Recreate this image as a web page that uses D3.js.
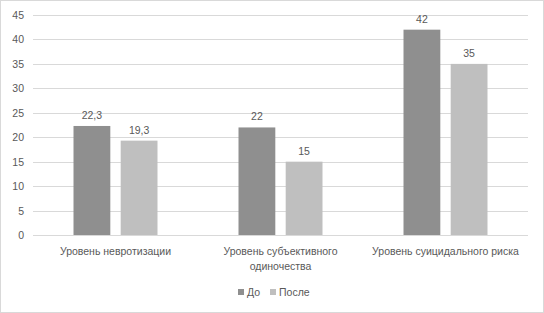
<!DOCTYPE html>
<html>
<head>
<meta charset="utf-8">
<script src="https://cdn.jsdelivr.net/npm/d3@7"></script>
<style>
  body { margin: 0; background: #fff; }
  svg text { font-family: "Liberation Sans", Arial, sans-serif; fill: #595959; }
</style>
</head>
<body>
<svg id="chart" width="544" height="313"></svg>
<script>
const categories = [['Уровень невротизации'], ['Уровень субъективного', 'одиночества'], ['Уровень суицидального риска']];
const seriesNames = ['До', 'После'];
const beforeValues = [22.3, 22, 42];
const afterValues = [19.3, 15, 35];
const yTicks = [0, 5, 10, 15, 20, 25, 30, 35, 40, 45];
const colors = ['#8f8f8f', '#bfbfbf'];

function drawChart() {
  const width = 544;
  const height = 313;
  const margin = {top: 15, right: 16, bottom: 78, left: 33};

  const svg = d3.select('svg#chart');

  // outer frame
  svg.append('rect')
    .attr('x', 0.5).attr('y', 0.5)
    .attr('width', width - 1).attr('height', height - 1)
    .attr('fill', '#fff')
    .attr('stroke', '#d9d9d9');

  const x = d3.scaleBand()
    .domain(d3.range(categories.length))
    .range([margin.left, width - margin.right]);

  const x1 = d3.scaleBand()
    .domain(d3.range(seriesNames.length))
    .range([0, 84])
    .paddingInner(0.22);

  const y = d3.scaleLinear()
    .domain([0, 45])
    .range([height - margin.bottom, margin.top]);

  // gridlines
  svg.append('g').selectAll('line').data(yTicks).enter()
    .append('line')
    .attr('x1', margin.left).attr('x2', width - margin.right)
    .attr('y1', d => Math.round(y(d)) + 0.5).attr('y2', d => Math.round(y(d)) + 0.5)
    .attr('stroke', '#d9d9d9');

  // y tick labels
  svg.append('g').selectAll('text').data(yTicks).enter()
    .append('text')
    .attr('x', 24)
    .attr('y', d => y(d) + 4)
    .attr('text-anchor', 'end')
    .attr('font-size', 10.5)
    .text(d => d);

  const series = [beforeValues, afterValues];
  const offset = (x.bandwidth() - 84) / 2;

  series.forEach((vals, si) => {
    const g = svg.append('g');
    g.selectAll('rect').data(vals).enter()
      .append('rect')
      .attr('x', (d, i) => x(i) + offset + x1(si))
      .attr('y', d => y(d))
      .attr('width', x1.bandwidth())
      .attr('height', d => y(0) - y(d))
      .attr('fill', colors[si]);

    g.selectAll('text').data(vals).enter()
      .append('text')
      .attr('x', (d, i) => x(i) + offset + x1(si) + x1.bandwidth() / 2)
      .attr('y', d => y(d) - 7)
      .attr('text-anchor', 'middle')
      .attr('font-size', 10.5)
      .text(d => String(d).replace('.', ','));
  });

  // category labels
  const cat = svg.append('g').selectAll('text').data(categories).enter()
    .append('text')
    .attr('x', (d, i) => x(i) + x.bandwidth() / 2)
    .attr('y', 255)
    .attr('text-anchor', 'middle')
    .attr('font-size', 10.5);
  cat.selectAll('tspan').data(d => d).enter()
    .append('tspan')
    .attr('x', function() { return d3.select(this.parentNode).attr('x'); })
    .attr('dy', (d, i) => i === 0 ? 0 : 15)
    .text(d => d);

  // legend
  const legend = svg.append('g');
  const legendX = [238, 270];
  seriesNames.forEach((name, i) => {
    legend.append('rect')
      .attr('x', legendX[i]).attr('y', 289)
      .attr('width', 6).attr('height', 6)
      .attr('fill', colors[i]);
    legend.append('text')
      .attr('x', legendX[i] + 9).attr('y', 296)
      .attr('font-size', 10.5)
      .text(name);
  });
}

window.addEventListener('load', drawChart);
</script>
</body>
</html>
